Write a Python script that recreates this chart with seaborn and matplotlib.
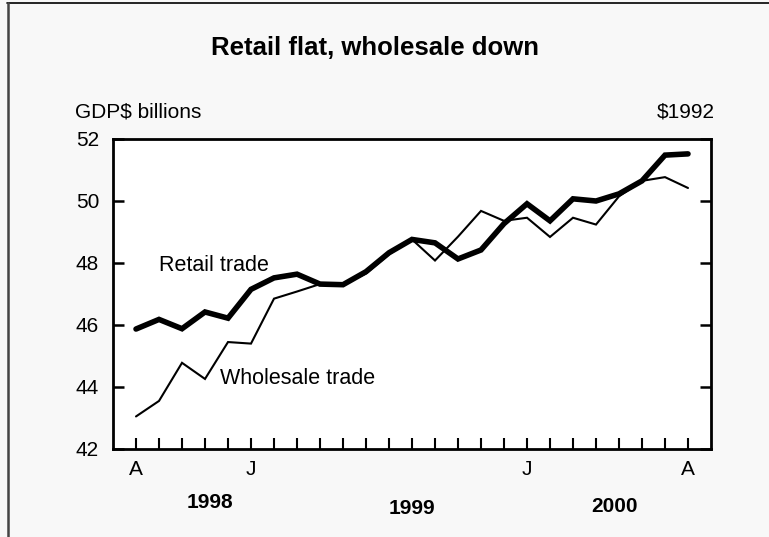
import matplotlib
matplotlib.use("Agg")
import matplotlib.pyplot as plt
import matplotlib.transforms as mtransforms
import seaborn as sns
import pandas as pd
from matplotlib.lines import Line2D

months = ["Aug98", "Sep98", "Oct98", "Nov98", "Dec98", "Jan99", "Feb99", "Mar99", "Apr99",
          "May99", "Jun99", "Jul99", "Aug99", "Sep99", "Oct99", "Nov99", "Dec99", "Jan00",
          "Feb00", "Mar00", "Apr00", "May00", "Jun00", "Jul00", "Aug00"]
retail = [45.87, 46.18, 45.88, 46.42, 46.22, 47.15, 47.52, 47.64, 47.32, 47.30, 47.72,
          48.33, 48.76, 48.65, 48.13, 48.42, 49.27, 49.91, 49.36, 50.07, 50.00, 50.23,
          50.65, 51.48, 51.52]
wholesale = [43.05, 43.55, 44.78, 44.26, 45.45, 45.40, 46.85, 47.08, 47.32, 47.30, 47.66,
             48.28, 48.76, 48.08, 48.85, 49.68, 49.36, 49.46, 48.84, 49.46, 49.24, 50.15,
             50.65, 50.77, 50.42]
tick_labels = {0: "A", 5: "J", 17: "J", 24: "A"}
years = ["1998", "1999", "2000"]
year_pos = [3.2, 12.0, 20.8]

df = pd.DataFrame({
    "t": list(range(len(months))) * 2,
    "value": retail + wholesale,
    "series": ["Retail trade"] * len(months) + ["Wholesale trade"] * len(months),
})

sns.set_style("white")
plt.rcParams["font.family"] = ["Liberation Sans", "DejaVu Sans"]
plt.rcParams["text.color"] = "black"
plt.rcParams["xtick.color"] = "black"
plt.rcParams["ytick.color"] = "black"
plt.rcParams["xtick.labelcolor"] = "black"
plt.rcParams["ytick.labelcolor"] = "black"

fig = plt.figure(figsize=(7.69, 5.37), dpi=100, facecolor="#f8f8f8")
ax = fig.add_axes([113 / 769, 1 - 449 / 537, (711 - 113) / 769, (449 - 139) / 537])
ax.set_facecolor("white")

sns.lineplot(data=df, x="t", y="value", hue="series", size="series",
             sizes={"Retail trade": 4.0, "Wholesale trade": 1.5},
             palette={"Retail trade": "black", "Wholesale trade": "black"},
             legend=False, ax=ax)
for ln in ax.lines:
    ln.set_solid_capstyle("round")
    ln.set_solid_joinstyle("miter")

ax.set_xlim(-1, 25)
ax.set_ylim(42, 52)
ax.set_xlabel("")
ax.set_ylabel("")

ax.set_xticks(range(len(months)))
ax.set_xticklabels([tick_labels.get(i, "") for i in range(len(months))])
ax.set_xticks([5, 17], minor=True)
ax.tick_params(axis="x", which="major", direction="in", length=8, width=1.5,
               color="black", labelcolor="black", labelsize=15, pad=8, bottom=True)
ax.tick_params(axis="x", which="minor", direction="in", length=20, width=1.8,
               color="black", bottom=True)

ax.set_yticks([42, 44, 46, 48, 50, 52])
ax.tick_params(axis="y", direction="in", length=8, width=1.8, color="black",
               labelcolor="black", labelsize=15, pad=10, left=True, right=True)

for s in ax.spines.values():
    s.set_visible(True)
    s.set_color("black")
    s.set_linewidth(2.0)

ax.text(1.0, 47.92, "Retail trade", fontsize=15.5, va="center", ha="left", color="black")
ax.text(3.65, 44.28, "Wholesale trade", fontsize=15.5, va="center", ha="left", color="black")

blend = mtransforms.blended_transform_factory(ax.transData, fig.transFigure)
for y, p, yy in zip(years, year_pos, [503, 508, 507]):
    ax.text(p, 1 - yy / 537, y, fontsize=15, fontweight="bold", ha="center",
            va="center", transform=blend, color="black")

fig.text(375 / 769, 1 - 48 / 537, "Retail flat, wholesale down", fontsize=18.5,
         fontweight="bold", ha="center", va="center", color="black")
fig.text(75 / 769, 1 - 112 / 537, "GDP$ billions", fontsize=15, ha="left", va="center",
         color="black")
fig.text(715 / 769, 1 - 112 / 537, "$1992", fontsize=15, ha="right", va="center",
         color="black")

# figure frame: top and left edges
fig.add_artist(Line2D([7 / 769, 1], [1 - 3 / 537, 1 - 3 / 537], transform=fig.transFigure,
                      color="black", lw=1.2))
fig.add_artist(Line2D([7.5 / 769, 7.5 / 769], [0, 1 - 3 / 537], transform=fig.transFigure,
                      color="#444444", lw=1.8))

fig.savefig("out.png", dpi=100, facecolor=fig.get_facecolor())
